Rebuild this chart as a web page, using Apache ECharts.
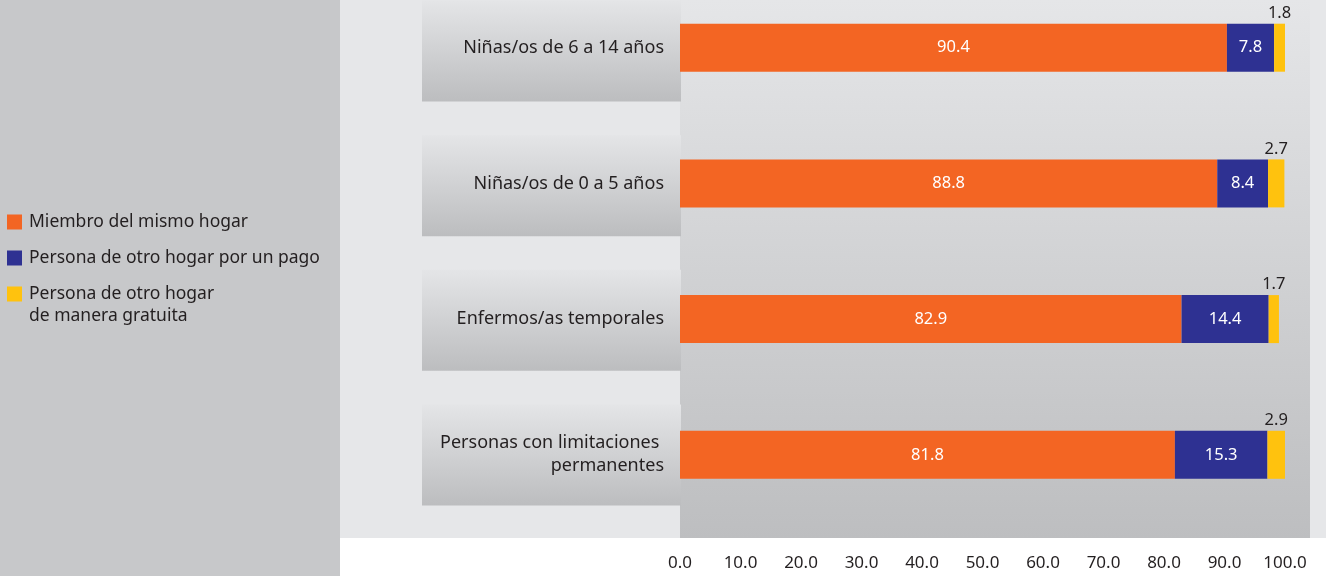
<!DOCTYPE html>
<html>
<head>
<meta charset="utf-8">
<script src="https://cdn.jsdelivr.net/npm/echarts@6/dist/echarts.min.js"></script>
<style>
  html, body { margin: 0; padding: 0; background: #ffffff; }
  #chart { width: 1326px; height: 576px; }
</style>
</head>
<body>
<div id="chart"></div>
<script>
// Who looks after each group (percent of cases)
const categories = [
  'Niñas/os de 6 a 14 años',
  'Niñas/os de 0 a 5 años',
  'Enfermos/as temporales',
  'Personas con limitaciones \npermanentes'
];
const seriesNames = [
  'Miembro del mismo hogar',
  'Persona de otro hogar por un pago',
  'Persona de otro hogar\nde manera gratuita'
];
const sameHousehold = [90.4, 88.8, 82.9, 81.8];
const otherPaid = [7.8, 8.4, 14.4, 15.3];
const otherFree = [1.8, 2.7, 1.7, 2.9];
const xTicks = [0, 10, 20, 30, 40, 50, 60, 70, 80, 90, 100];

const FONT = '"Noto Sans", sans-serif';
const INK = '#231f20';
const colors = ['#f36523', '#2e3192', '#ffc20e'];

const panelGradient = {
  type: 'linear', x: 0, y: 0, x2: 0, y2: 1,
  colorStops: [{ offset: 0, color: '#e5e6e8' }, { offset: 1, color: '#bdbec0' }]
};
const boxGradient = {
  type: 'linear', x: 0, y: 0, x2: 0, y2: 1,
  colorStops: [{ offset: 0, color: '#e4e5e7' }, { offset: 1, color: '#bcbdbf' }]
};

const chart = echarts.init(document.getElementById('chart'), null, { renderer: 'canvas' });

const valueLabel = (color, position) => ({
  show: true,
  position: position,
  color: color,
  fontFamily: FONT,
  fontSize: 16.5,
  distance: 2,
  formatter: p => p.value.toFixed(1)
});

const LEGEND_LH = 22;

chart.setOption({
  animation: false,
  backgroundColor: '#ffffff',
  textStyle: { fontFamily: FONT },
  graphic: [
    { type: 'rect', z: -10, shape: { x: 0, y: 0, width: 340, height: 576 }, style: { fill: '#c7c8ca' } },
    { type: 'rect', z: -10, shape: { x: 340, y: 0, width: 986, height: 538 }, style: { fill: '#e6e7e9' } },
    { type: 'rect', z: -9, shape: { x: 680, y: 0, width: 630, height: 538 }, style: { fill: panelGradient } }
  ],
  legend: {
    orient: 'vertical',
    left: 7,
    top: 211,
    padding: 0,
    icon: 'rect',
    itemWidth: 15,
    itemHeight: 15,
    itemGap: 14,
    textStyle: { fontFamily: FONT, fontSize: 17.5, color: INK, lineHeight: LEGEND_LH, padding: [0, 0, 0, 2] },
    data: [
      { name: seriesNames[0] },
      { name: seriesNames[1] },
      // two-line label: keep the swatch beside the first line
      { name: seriesNames[2], textStyle: { height: LEGEND_LH, rich: { l: {} } } }
    ]
  },
  grid: [
    { left: 680, right: 41, top: 47.7, height: 407.1, containLabel: false },
    { left: 422, width: 259, top: 51.1, height: 403.8, containLabel: false }
  ],
  xAxis: [
    {
      type: 'value', gridIndex: 0, min: 0, max: 100, interval: 10,
      axisLine: { show: false }, axisTick: { show: false }, splitLine: { show: false },
      axisLabel: {
        margin: 100, fontFamily: FONT, fontSize: 17, color: INK,
        formatter: v => xTicks.includes(v) ? v.toFixed(1) : ''
      }
    },
    { type: 'value', gridIndex: 1, min: 0, max: 1, show: false }
  ],
  yAxis: [
    {
      type: 'category', gridIndex: 0, data: categories, inverse: true, boundaryGap: false, z: 5,
      axisLine: { show: false }, axisTick: { show: false }, splitLine: { show: false },
      axisLabel: { margin: 16, fontFamily: FONT, fontSize: 18, color: INK, lineHeight: 23, align: 'right' }
    },
    { type: 'category', gridIndex: 1, data: categories, inverse: true, boundaryGap: false, show: false }
  ],
  series: [
    {
      type: 'bar', xAxisIndex: 1, yAxisIndex: 1, z: 0, silent: true,
      barWidth: 101,
      data: categories.map(() => 1),
      itemStyle: { color: boxGradient },
      label: { show: false }, tooltip: { show: false }, legendHoverLink: false
    },
    {
      name: seriesNames[0], type: 'bar', stack: 'total', barWidth: 48,
      data: sameHousehold, itemStyle: { color: colors[0] },
      label: valueLabel('#ffffff', 'inside')
    },
    {
      name: seriesNames[1], type: 'bar', stack: 'total', barWidth: 48,
      data: otherPaid, itemStyle: { color: colors[1] },
      label: valueLabel('#ffffff', 'inside')
    },
    {
      name: seriesNames[2], type: 'bar', stack: 'total', barWidth: 48,
      data: otherFree, itemStyle: { color: colors[2] },
      label: valueLabel(INK, 'top')
    }
  ]
});
</script>
</body>
</html>
